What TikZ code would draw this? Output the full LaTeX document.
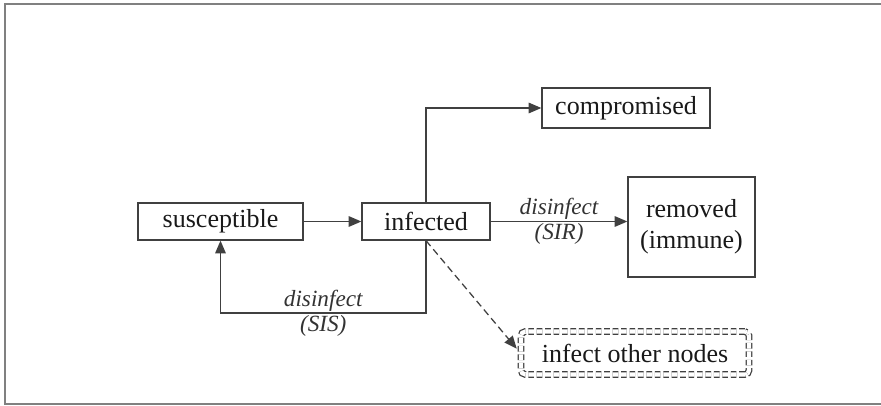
\documentclass[tikz,border=0pt]{standalone}
\usepackage{fontspec}
\setmainfont{Liberation Serif}
\usetikzlibrary{arrows.meta}

\begin{document}
\begin{tikzpicture}[x=0.025cm,y=-0.025cm,>={Triangle[length=9pt,width=7.5pt]},
   state node/.style={draw=black!75,line width=0.9pt,text=black!90,
     font=\fontsize{18.5}{22}\selectfont,inner sep=0pt,align=center}]

\tikzstyle {edge} = [->, draw=black!75, line width=0.9pt];
\tikzstyle {lbl} = [font=\fontsize{16.5}{19}\selectfont\itshape, text=black!80, inner sep=1pt];

\useasboundingbox (0,0) rectangle (881,406);
\draw[black!50,line width=1pt] (881,4) -- (5,4) -- (5,404) -- (881,404);

\node[state node,minimum width=4.125cm,minimum height=0.925cm] (sus) at (220.5,221.5){susceptible};
\node[state node,minimum width=3.2cm,minimum height=0.925cm] (inf) at (426,221.5){infected};
\node[state node,minimum width=4.2cm,minimum height=1cm] (comp) at (626,108){compromised};
\node[state node,minimum width=3.175cm,minimum height=2.5cm] (rem) at (691.5,227){removed\\(immune)};
\node[state node,minimum width=5.7cm,minimum height=1.07cm,double,double distance=3pt,
  dash pattern=on 4pt off 2pt,rounded corners=3pt] (other) at (635,353){infect other nodes};

\coordinate (sisturn) at (426,313);

%\draw [->] (sus) -- (rem);

\path (sus) edge [edge] (inf);
\draw [edge] (inf.north) |- (comp.west);
\draw [edge] (inf.east) -- node[lbl,above]{disinfect} node[lbl,below]{(SIR)} (inf.east -| rem.west);
\draw [edge] (inf.south) -- (sisturn)
  -- node[lbl,above]{disinfect} node[lbl,below]{(SIS)} (sisturn -| sus.south) -- (sus.south);
\draw [edge,dash pattern=on 5pt off 3pt,shorten >=4pt] (inf.south) -- (other.west);

\end{tikzpicture}
\end{document}
